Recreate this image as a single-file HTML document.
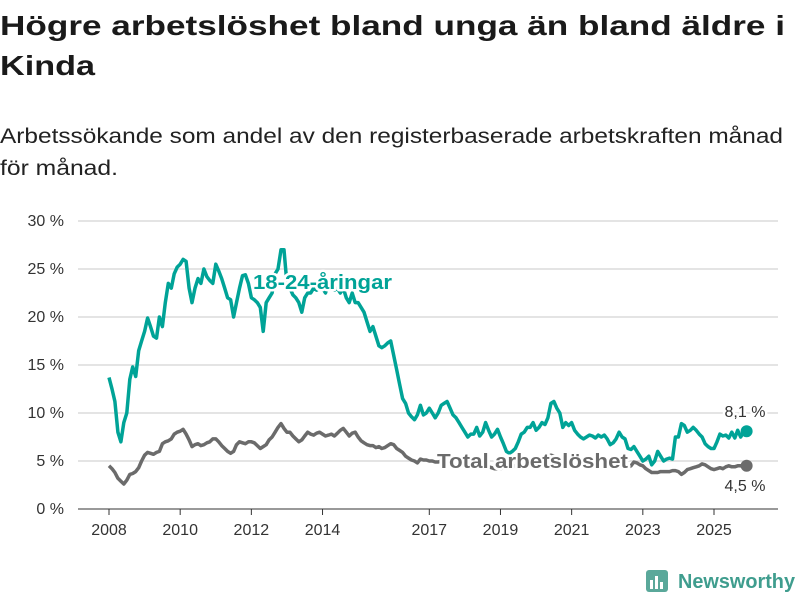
<!DOCTYPE html>
<html><head><meta charset="utf-8"><style>
body{margin:0;background:#fff}
svg{display:block;font-family:"Liberation Sans",sans-serif}
</style></head><body>
<svg id="chart" width="800" height="600" viewBox="0 0 800 600">
<text x="0" y="35" font-size="28" font-weight="bold" fill="#1a1a1a" textLength="785" lengthAdjust="spacingAndGlyphs">Högre arbetslöshet bland unga än bland äldre i</text>
<text x="0" y="75" font-size="28" font-weight="bold" fill="#1a1a1a" textLength="95" lengthAdjust="spacingAndGlyphs">Kinda</text>
<text x="0" y="143" font-size="21" fill="#222" textLength="783" lengthAdjust="spacingAndGlyphs">Arbetssökande som andel av den registerbaserade arbetskraften månad</text>
<text x="0" y="175" font-size="21" fill="#222" textLength="118" lengthAdjust="spacingAndGlyphs">för månad.</text>
<g id="grid"></g><g id="series"></g><g id="labels"></g>
<g>
<rect x="646" y="570" width="22" height="22" rx="3" fill="#5aa89a"/>
<rect x="650" y="580" width="3" height="9" fill="#fff"/><rect x="655" y="576" width="3" height="13" fill="#fff"/><rect x="660" y="582" width="3" height="7" fill="#fff"/>
<text x="678" y="588" font-size="20" font-weight="bold" fill="#3f9d8e" textLength="117" lengthAdjust="spacingAndGlyphs">Newsworthy</text>
</g>
</svg>
<script>
const yTicks=[0,5,10,15,20,25,30];
const xTickYears=[2008,2010,2012,2014,2017,2019,2021,2023,2025];
const youth=[13.7,12.5,11.2,8,7,9,10,13.5,14.8,13.8,16.5,17.5,
18.5,19.9,19,18,17.8,20,19,21.5,23.5,23,24.5,25.2,
25.5,26,25.8,23,21.5,23,24,23.5,25,24.2,23.8,23.5,
25.5,24.8,24,23,22,21.8,20,21.5,23,24.3,24.4,23.5,
22,21.8,21.5,21,18.5,21.5,22,22.5,24.5,25,27,27,
23.5,23,22.3,22,21.5,20.5,22,22.5,22.5,23,22.8,23,
23,22.5,23.5,23,22.8,23,22.5,23,22,21.5,22.5,21.5,
21.5,21,20.5,19.5,18.5,19,18,17,16.8,17,17.3,17.5,
16,14.5,13,11.5,11,10,9.6,9.3,9.8,10.8,9.8,10,
10.5,10,9.5,10,10.8,11,11.2,10.5,9.8,9.5,9,8.5,
8,7.5,7.8,7.8,8.5,7.6,8,9,8.2,7.5,7.8,8.3,
7.5,6.8,6,5.8,6,6.3,7,7.8,8,8.5,8.5,9,
8.2,8.5,9,8.8,9.5,11,11.2,10.5,10,8.5,9,8.7,
9,8.2,7.8,7.5,7.3,7.5,7.7,7.6,7.4,7.7,7.5,7.7,
7.3,6.7,6.9,7.3,8,7.5,7.3,6.3,6.2,6.5,6,5.5,
5,5.2,5.5,4.6,5,6,5.5,5,5.2,5.3,5.2,7.5,
7.5,8.9,8.7,8,8.2,8.5,8.2,7.8,7.5,6.8,6.5,6.3,
6.3,7,7.8,7.6,7.7,7.4,8,7.4,8.2,7.5,8,8.1];
const total=[4.5,4.2,3.8,3.2,2.9,2.6,3,3.6,3.7,3.9,4.3,5,
5.6,5.9,5.8,5.7,5.9,6,6.8,7,7.1,7.3,7.8,8,
8.1,8.3,7.8,7.2,6.5,6.7,6.8,6.6,6.7,6.9,7,7.3,
7.3,7,6.6,6.3,6,5.8,6,6.7,7,6.9,6.8,7,
7,6.9,6.6,6.3,6.5,6.7,7.2,7.5,8,8.5,8.9,8.4,
8,8,7.6,7.3,7,7.2,7.6,8,7.8,7.7,7.9,8,
7.8,7.6,7.7,7.8,7.6,7.9,8.2,8.4,8,7.6,7.9,8,
7.5,7.1,6.9,6.7,6.6,6.6,6.4,6.5,6.3,6.4,6.6,6.8,
6.7,6.3,6.1,5.9,5.5,5.3,5.1,5,4.8,5.2,5.1,5.1,
5,5,4.9,4.9,5,5,4.9,4.8,4.7,4.6,4.6,4.5,
4.4,4.4,4.3,4.4,4.4,4.5,4.4,4.3,4.4,4.3,4.2,4.2,
4.2,4.3,4.3,4.4,4.4,4.5,4.5,4.6,4.6,4.7,4.7,4.8,
4.8,4.9,5,5.2,5.5,5.6,5.5,5.4,5.2,5.1,5,5,
5,4.9,4.8,4.7,4.6,4.5,4.5,4.6,4.5,4.4,4.4,4.5,
4.5,4.4,4.3,4.4,4.5,4.4,4.4,4.3,4.5,4.9,4.8,4.6,
4.5,4.2,4,3.8,3.8,3.8,3.9,3.9,3.9,3.9,4,4,
3.9,3.6,3.8,4.1,4.2,4.3,4.4,4.5,4.7,4.6,4.4,4.2,
4.1,4.2,4.3,4.2,4.4,4.5,4.4,4.4,4.5,4.5,4.4,4.5];
const NS="http://www.w3.org/2000/svg";
const X0=78,X1=778,Y0=509,PPV=9.6;
const xm=m=>109+m*(605/204);
const xy=yr=>xm((yr-2008)*12);
const yv=v=>Y0-v*PPV;
function mk(tag,attrs,parent,txt){const e=document.createElementNS(NS,tag);for(const k in attrs)e.setAttribute(k,attrs[k]);if(txt!=null)e.textContent=txt;parent.appendChild(e);return e;}
const grid=document.getElementById('grid');
yTicks.forEach(t=>{
 const l=mk('line',{x1:X0,x2:X1,y1:yv(t),y2:yv(t),stroke:t===0?'#333':'#dcdcdc','stroke-width':t===0?1:1.5},grid);
 
 
 const tx=mk('text',{x:64,y:yv(t)+5,'text-anchor':'end','font-size':16,fill:'#333'},grid,t+' %');
 
 
});
xTickYears.forEach(yr=>{
 const x=xy(yr);
 const l=mk('line',{x1:x,x2:x,y1:Y0,y2:Y0+6,stroke:'#333'},grid);
 
 
 const tx=mk('text',{x:x,y:535,'text-anchor':'middle','font-size':16,fill:'#333'},grid,String(yr));
 
 
});
const sg=document.getElementById('series');
function line(arr,color,name){
 const d=arr.map((v,i)=>(i?'L':'M')+xm(i).toFixed(1)+','+yv(v).toFixed(1)).join('');
 const p=mk('path',{d:d,fill:'none',stroke:color,'stroke-width':3.5,'stroke-linejoin':'round'},sg);
 
 
 const n=arr.length-1;
 const c=mk('circle',{cx:xm(n),cy:yv(arr[n]),r:6,fill:color},sg);
 
 
}
line(total,'#6b6b6b','total-line');
line(youth,'#00a397','youth-line');
const lg=document.getElementById('labels');
function lab(x,y,txt,color,size,bold,anchor,name,len){
 const a={x:x,y:y,fill:color,'font-size':size,'font-weight':bold?'bold':'normal','text-anchor':anchor,stroke:'#fff','stroke-width':5,'paint-order':'stroke','stroke-linejoin':'round'};
 if(len){a.textLength=len;a.lengthAdjust='spacingAndGlyphs';}
 const t=mk('text',a,lg,txt);
 
 
}
lab(253,289,'18-24-åringar','#00a397',20,true,'start','youth-series-label',139);
lab(437,468,'Total arbetslöshet','#6b6b6b',20,true,'start','total-series-label',191);
const n=youth.length-1;
lab(745,yv(youth[n])-14,youth[n].toString().replace('.',',')+' %','#333',16,false,'middle','youth-end-value');
lab(745,yv(total[total.length-1])+25,total[total.length-1].toString().replace('.',',')+' %','#333',16,false,'middle','total-end-value');
</script>
</body></html>
